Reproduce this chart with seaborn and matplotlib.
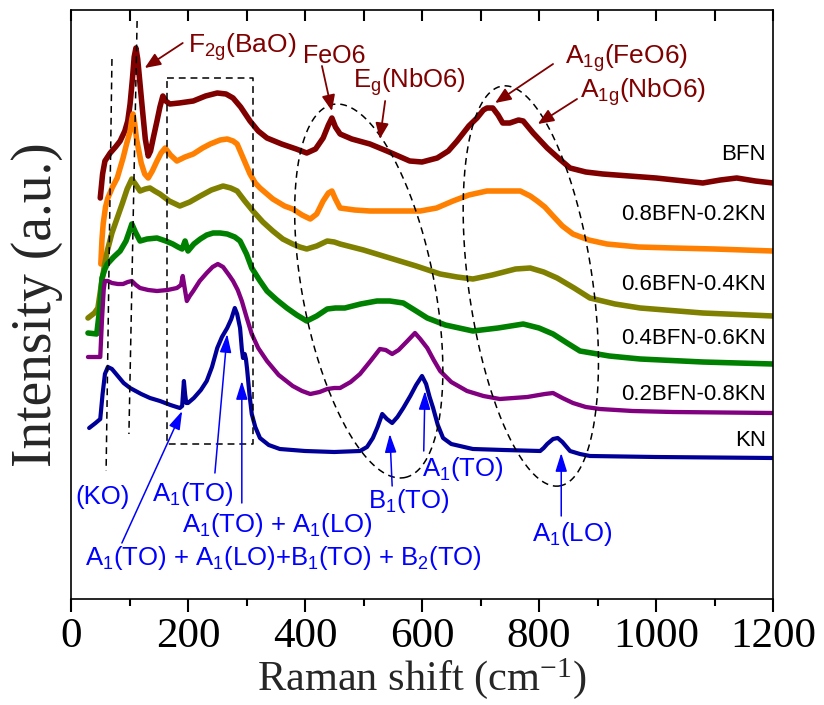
import numpy as np
import pandas as pd
import matplotlib
matplotlib.use("Agg")
import matplotlib.pyplot as plt
import seaborn as sns

# ---------------- data (Raman shift in cm-1, intensity in a.u. incl. stacking offset) ----------
bfn_x = [50, 54, 58, 67, 76, 84, 92, 97, 101, 105, 108, 111, 114, 118, 122, 127, 132, 136, 141,
         147, 152, 157, 162, 169, 185, 209, 230, 250, 265, 277, 290, 306, 320, 335, 360, 385, 403,
         418, 431, 440, 446, 452, 460, 480, 511, 540, 579, 600, 626, 645, 660, 680, 694, 705, 711,
         721, 730, 738, 750, 765, 773, 790, 814, 835, 853, 880, 909, 1000, 1080, 1110, 1138, 1170,
         1200]
bfn_y = [401, 425, 438, 446, 452, 458, 468, 478, 495, 520, 542, 551, 540, 515, 490, 460, 443, 448,
         462, 478, 492, 503, 498, 495, 496, 498, 503, 506, 505, 501, 492, 478, 468, 461, 455, 450,
         446, 450, 461, 474, 481, 472, 465, 460, 455, 448, 438, 437, 441, 448, 458, 473, 481, 489,
         491, 491, 484, 476, 476, 479, 478, 466, 451, 440, 431, 427, 425, 421, 416, 419, 421, 418,
         416]

bfn82_x = [51, 53, 55, 59, 63, 71, 79, 89, 95, 101, 104, 106, 109, 112, 115, 120, 126, 132, 139,
           147, 154, 161, 170, 181, 195, 209, 225, 238, 255, 267, 277, 284, 295, 306, 315, 323, 345,
           365, 379, 395, 409, 420, 431, 440, 446, 452, 460, 485, 511, 550, 597, 625, 653, 680, 711,
           740, 768, 785, 797, 810, 824, 840, 858, 885, 916, 970, 1029, 1100, 1200]
bfn82_y = [335, 360, 375, 392, 401, 412, 421, 441, 455, 468, 480, 485, 475, 460, 451, 436, 425, 421,
           428, 438, 446, 451, 444, 438, 442, 445, 451, 455, 459, 460, 458, 455, 440, 425, 416, 411,
           400, 393, 390, 384, 380, 385, 398, 406, 408, 400, 391, 389, 388, 388, 388, 391, 398, 404,
           408, 408, 408, 403, 398, 392, 383, 373, 365, 359, 355, 352, 351, 350, 348]

bfn64_x = [29, 40, 46, 52, 57, 62, 70, 79, 88, 96, 104, 110, 118, 127, 135, 143, 152, 168, 186,
           203, 221, 240, 260, 273, 284, 297, 311, 328, 345, 362, 379, 391, 403, 420, 438, 450, 460,
           500, 545, 590, 631, 660, 687, 720, 760, 785, 808, 831, 860, 887, 930, 973, 1080, 1200]
bfn64_y = [281, 286, 291, 315, 333, 348, 366, 381, 396, 410, 420, 415, 408, 410, 411, 408, 405, 398,
           393, 397, 403, 409, 413, 411, 408, 398, 388, 377, 368, 360, 355, 352, 350, 353, 358, 357,
           355, 349, 341, 333, 325, 322, 320, 324, 330, 331, 327, 321, 311, 301, 295, 291, 286, 283]

bfn46_x = [29, 44, 49, 53, 58, 62, 73, 84, 94, 100, 104, 110, 118, 130, 147, 162, 174, 183, 190,
           195, 200, 210, 221, 232, 243, 255, 267, 280, 289, 300, 309, 322, 335, 352, 369, 386, 403,
           420, 438, 452, 468, 495, 523, 545, 568, 590, 609, 640, 687, 730, 773, 800, 824, 848, 870,
           920, 973, 1080, 1200]
bfn46_y = [266, 265, 290, 321, 330, 335, 342, 348, 358, 368, 375, 367, 358, 360, 361, 358, 355, 352,
           350, 358, 348, 355, 360, 364, 366, 366, 365, 362, 358, 345, 331, 319, 308, 299, 291, 284,
           278, 283, 290, 291, 291, 295, 298, 298, 296, 288, 281, 274, 268, 271, 275, 271, 265, 256,
           248, 243, 240, 237, 235]

bfn28_x = [29, 50, 53, 56, 58, 63, 70, 80, 89, 97, 104, 111, 118, 132, 147, 165, 181, 188, 191,
           194, 198, 203, 209, 220, 232, 242, 251, 260, 270, 277, 285, 292, 300, 309, 320, 335, 355,
           379, 395, 409, 425, 438, 450, 460, 478, 494, 512, 528, 538, 549, 560, 575, 588, 597, 609,
           620, 631, 650, 677, 705, 733, 780, 810, 824, 840, 858, 880, 904, 960, 1029, 1200]
bfn28_y = [242, 242, 280, 310, 318, 318, 316, 315, 315, 317, 318, 314, 311, 309, 308, 309, 311, 314,
           323, 312, 298, 303, 308, 318, 326, 332, 335, 332, 324, 318, 309, 298, 282, 265, 251, 238,
           224, 213, 208, 205, 207, 210, 211, 211, 217, 225, 238, 250, 249, 245, 249, 258, 266, 260,
           251, 239, 228, 217, 208, 203, 200, 202, 205, 206, 201, 196, 192, 190, 188, 187, 186]

kn_x = [31, 42, 50, 54, 58, 63, 70, 80, 90, 101, 120, 135, 152, 170, 186, 190, 192, 193, 195, 197,
        200, 210, 222, 232, 241, 250, 258, 267, 274, 280, 284, 289, 292, 294, 297, 299, 301, 305,
        309, 315, 323, 338, 357, 400, 450, 494, 506, 516, 524, 532, 540, 549, 558, 568, 580, 590,
        600, 607, 613, 619, 627, 636, 650, 687, 740, 802, 808, 814, 824, 832, 840, 853, 870, 887,
        1000, 1200]
kn_y = [171, 176, 180, 205, 225, 232, 230, 223, 216, 211, 205, 201, 198, 194, 191, 193, 210, 218,
        205, 196, 196, 201, 209, 218, 232, 251, 262, 271, 280, 291, 285, 271, 250, 241, 245, 240,
        230, 205, 185, 172, 161, 154, 150, 148, 147, 148, 152, 161, 172, 185, 180, 176, 182, 191,
        203, 214, 223, 215, 202, 191, 174, 161, 155, 150, 149, 148, 151, 155, 160, 161, 157, 148,
        145, 143, 142, 141]

sample_names = ["BFN", "0.8BFN-0.2KN", "0.6BFN-0.4KN", "0.4BFN-0.6KN", "0.2BFN-0.8KN", "KN"]
sample_colors = ["#800000", "#FF8000", "#808000", "#008000", "#800080", "#000099"]
series_x = [bfn_x, bfn82_x, bfn64_x, bfn46_x, bfn28_x, kn_x]
series_y = [bfn_y, bfn82_y, bfn64_y, bfn46_y, bfn28_y, kn_y]

frames = []
for name, xs, ys in zip(sample_names, series_x, series_y):
    frames.append(pd.DataFrame({"shift": xs, "intensity": ys, "sample": name}))
df = pd.concat(frames, ignore_index=True)

# ---------------- style ----------------
sns.set_theme(style="ticks")
plt.rcParams["font.family"] = ["Liberation Sans", "DejaVu Sans"]
plt.rcParams["mathtext.default"] = "regular"
plt.rcParams["xtick.bottom"] = True
plt.rcParams["xtick.color"] = "black"
plt.rcParams["lines.solid_joinstyle"] = "round"
plt.rcParams["lines.solid_capstyle"] = "round"

fig = plt.figure(figsize=(8.24, 7.05), dpi=100)
ax = fig.add_axes([71 / 824, 1 - 599 / 705, 702 / 824, 589 / 705])

widths = {"BFN": 4.0, "0.8BFN-0.2KN": 4.0, "0.6BFN-0.4KN": 4.0, "0.4BFN-0.6KN": 4.0,
          "0.2BFN-0.8KN": 3.1, "KN": 3.0}
for name, col in zip(sample_names, sample_colors):
    sub = df[df["sample"] == name]
    sns.lineplot(data=sub, x="shift", y="intensity", color=col, lw=widths[name],
                 sort=False, estimator=None, ax=ax, legend=False)

ax.set_xlim(0, 1200)
ax.set_ylim(0, 589)
ax.set_yticks([])
ax.set_xticks(range(0, 1201, 200))
ax.set_xticks(range(100, 1200, 200), minor=True)
serif = ["Liberation Serif", "DejaVu Serif"]
ax.set_xticklabels([str(v) for v in range(0, 1201, 200)], family=serif, fontsize=31)
ax.xaxis.set_ticks_position("bottom")
ax.tick_params(axis="x", which="major", bottom=True, top=False, direction="out", length=9,
               width=1.5, pad=4, color="black", labelcolor="black")
ax.tick_params(axis="x", which="minor", bottom=True, top=False, direction="out", length=5,
               width=1.5, color="black")
for s in ax.spines.values():
    s.set_visible(True)
    s.set_linewidth(1.2)
    s.set_color("black")

top = ax.twiny()
top.set_xlim(ax.get_xlim())
top.set_xticks(range(0, 1201, 200))
top.set_xticks(range(100, 1200, 200), minor=True)
top.xaxis.set_ticks_position("top")
top.tick_params(axis="x", which="both", top=True, bottom=False, labeltop=False,
                direction="in", length=8, width=1.5, color="black")
for s in top.spines.values():
    s.set_visible(False)

ax.set_xlabel("Raman shift (cm$^{-1}$)", family=serif, fontsize=30.5, labelpad=0)
ax.set_ylabel("Intensity (a.u.)", family=serif, fontsize=40, labelpad=6)

# ---------------- sample labels ----------------
label_y = [445, 385, 315, 260, 205, 158]
for name, yy in zip(sample_names, label_y):
    ax.text(1188, yy, name, ha="right", va="center", fontsize=16, color="black")

# ---------------- dashed guides ----------------
dash = dict(color="black", lw=1.1, ls=(0, (4.5, 3.2)))
ax.plot([70, 60], [540, 128], **dash)
ax.plot([113, 99], [578, 165], **dash)
ax.plot([164, 311, 311, 164, 164], [521, 521, 155, 155, 521], **dash)

def draw_ellipse(cx, cy, a_px, b_px, ang_deg):
    cxd, cyd = ax.transData.transform((cx, cy))
    t = np.linspace(0, 2 * np.pi, 300)
    th = np.deg2rad(ang_deg)
    ex = a_px * np.cos(t)
    ey = b_px * np.sin(t)
    dx = cxd + ex * np.cos(th) - ey * np.sin(th)
    dy = cyd + ex * np.sin(th) + ey * np.cos(th)
    pts = ax.transData.inverted().transform(np.column_stack([dx, dy]))
    ax.plot(pts[:, 0], pts[:, 1], **dash)

draw_ellipse(509, 308, 190, 66, -79.1)
draw_ellipse(786, 313, 202, 62, -81.9)

# ---------------- annotations ----------------
red = "#800000"
blue = "#0000FF"
red_arrow = dict(arrowstyle="-|>,head_length=0.6,head_width=0.25", color=red, lw=1.3,
                 mutation_scale=16, shrinkA=0, shrinkB=0)
blue_arrow = dict(arrowstyle="-|>,head_length=0.7,head_width=0.22", color=blue, lw=1.1,
                  mutation_scale=16, shrinkA=0, shrinkB=0)

ax.text(200, 546, "F$_{2g}$(BaO)", color=red, fontsize=19, ha="left", va="baseline")
ax.annotate("", xy=(126, 531), xytext=(191, 556), arrowprops=red_arrow)
ax.text(397, 536, "FeO6", color=red, fontsize=18, ha="left", va="baseline")
ax.annotate("", xy=(446, 488), xytext=(429, 533), arrowprops=red_arrow)
ax.text(482, 511, "E$_g$(NbO6)", color=red, fontsize=18.5, ha="left", va="baseline")
ax.annotate("", xy=(528, 460), xytext=(537, 498), arrowprops=red_arrow)
ax.text(844, 535, "A$_{1g}$(FeO6)", color=red, fontsize=19, ha="left", va="baseline")
ax.annotate("", xy=(725, 496), xytext=(824, 535), arrowprops=red_arrow)
ax.text(870, 501, "A$_{1g}$(NbO6)", color=red, fontsize=19, ha="left", va="baseline")
ax.annotate("", xy=(798, 475), xytext=(865, 500), arrowprops=red_arrow)

bfs = 18.5
ax.text(7, 95, "(KO)", color=blue, fontsize=bfs, ha="left", va="baseline")
ax.text(138, 98, "A$_1$(TO)", color=blue, fontsize=bfs, ha="left", va="baseline")
ax.text(190, 67, "A$_1$(TO) + A$_1$(LO)", color=blue, fontsize=bfs, ha="left", va="baseline")
ax.text(24, 34, "A$_1$(TO) + A$_1$(LO)+B$_1$(TO) + B$_2$(TO)", color=blue, fontsize=bfs,
        ha="left", va="baseline")
ax.text(508, 91, "B$_1$(TO)", color=blue, fontsize=bfs, ha="left", va="baseline")
ax.text(600, 123, "A$_1$(TO)", color=blue, fontsize=bfs, ha="left", va="baseline")
ax.text(788, 58, "A$_1$(LO)", color=blue, fontsize=bfs, ha="left", va="baseline")

ax.annotate("", xy=(190, 188), xytext=(87, 56), arrowprops=blue_arrow)
ax.annotate("", xy=(267, 265), xytext=(246, 126), arrowprops=blue_arrow)
ax.annotate("", xy=(292, 218), xytext=(292, 96), arrowprops=blue_arrow)
ax.annotate("", xy=(545, 165), xytext=(549, 113), arrowprops=blue_arrow)
ax.annotate("", xy=(605, 208), xytext=(603, 148), arrowprops=blue_arrow)
ax.annotate("", xy=(838, 146), xytext=(838, 83), arrowprops=blue_arrow)

fig.savefig("out.png", dpi=100)
